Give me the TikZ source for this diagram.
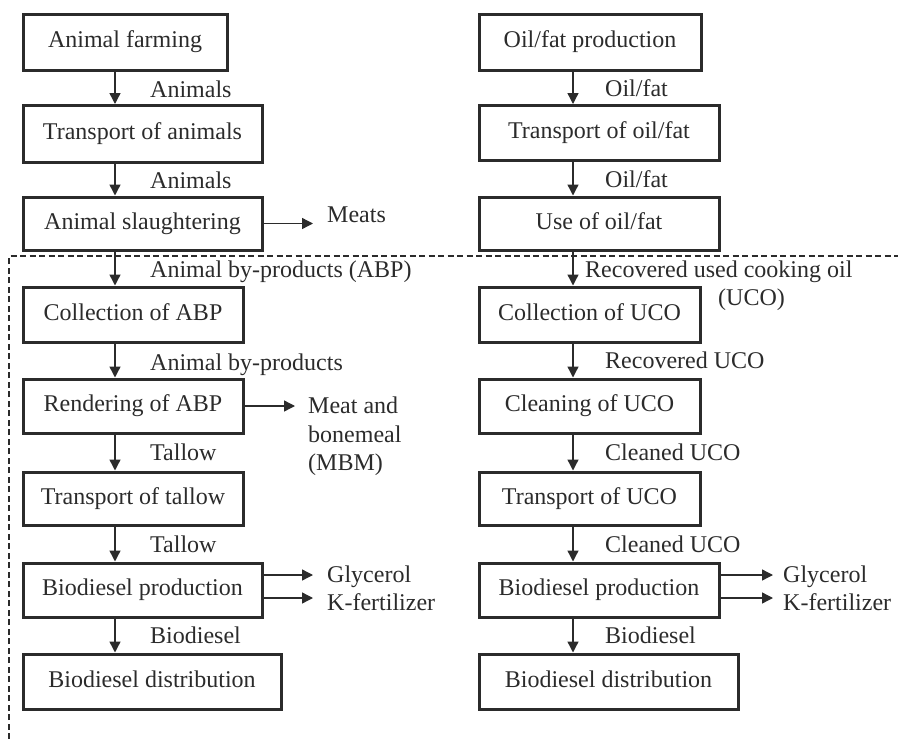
\documentclass[tikz,border=0pt]{standalone}
\usepackage{fontspec}
\setmainfont{Liberation Serif}
\usetikzlibrary{arrows.meta}
\definecolor{ink}{HTML}{2B2B2B}
\tikzset{
  box/.style={draw=ink, line width=3pt, text=ink, minimum height=55pt,
    text height=16pt, text depth=5pt, inner sep=0pt},
  conn/.style={draw=ink, line width=1.4pt,
    -{Triangle[length=11pt,width=11pt]}},
  lbl/.style={anchor=base west, text=ink, inner sep=0pt},
  border/.style={draw=ink, line width=1.3pt, dash pattern=on 6pt off 3.5pt}
}
\begin{document}
\begin{tikzpicture}[x=1pt, y=-1pt, font=\fontsize{24}{29}\selectfont]
\useasboundingbox (0,0) rectangle (898,739);

% column positions of the vertical flows
\coordinate (xL) at (115,0);
\coordinate (xR) at (573,0);

% ---- animal fat chain ----
\node[box, minimum width=204pt, minimum height=56pt] (farm)  at (125,42)    {Animal farming};
\node[box, minimum width=239pt, minimum height=57pt] (tani)  at (142.5,134) {Transport of animals};
\node[box, minimum width=239pt, minimum height=53pt] (slau)  at (142.5,223.5) {Animal slaughtering};
\node[box, minimum width=220pt] (colA)  at (133,314.5) {Collection of ABP};
\node[box, minimum width=220pt, minimum height=54pt] (rend)  at (133,406)   {Rendering of ABP};
\node[box, minimum width=220pt, minimum height=53pt] (ttal)  at (133,498.5) {Transport of tallow};
\node[box, minimum width=239pt, minimum height=54pt] (bioL)  at (142.5,590) {Biodiesel production};
\node[box, minimum width=258pt] (distL) at (152,681.5) {Biodiesel distribution};

% ---- used cooking oil chain ----
\node[box, minimum width=222pt, minimum height=56pt] (oilp)  at (590,42)    {Oil/fat production};
\node[box, minimum width=240pt, minimum height=55pt] (toil)  at (599,133)   {Transport of oil/fat};
\node[box, minimum width=240pt, minimum height=53pt] (use)   at (599,223.5) {Use of oil/fat};
\node[box, minimum width=221pt] (colU)  at (589.5,314.5) {Collection of UCO};
\node[box, minimum width=221pt, minimum height=54pt] (clean) at (589.5,406)  {Cleaning of UCO};
\node[box, minimum width=221pt, minimum height=53pt] (tuco)  at (589.5,498.5) {Transport of UCO};
\node[box, minimum width=240pt, minimum height=54pt] (bioR)  at (599,590)   {Biodiesel production};
\node[box, minimum width=259pt] (distR) at (608.5,681.5) {Biodiesel distribution};

% ---- flow labels ----
\node[lbl] (l1) at (150,97)  {Animals};
\node[lbl] (l2) at (150,188) {Animals};
\node[lbl] (l3) at (150,277) {Animal by-products (ABP)};
\node[lbl] (l4) at (150,370) {Animal by-products};
\node[lbl] (l5) at (150,460) {Tallow};
\node[lbl] (l6) at (150,552) {Tallow};
\node[lbl] (l7) at (150,643) {Biodiesel};

\node[lbl] (r1) at (605,96)  {Oil/fat};
\node[lbl] (r2) at (605,187) {Oil/fat};
\node[lbl] (r3) at (585,277) {Recovered used cooking oil};
\node[lbl] (r3b) at (718,305) {(UCO)};
\node[lbl] (r4) at (605,368) {Recovered UCO};
\node[lbl] (r5) at (605,460) {Cleaned UCO};
\node[lbl] (r6) at (605,552) {Cleaned UCO};
\node[lbl] (r7) at (605,643) {Biodiesel};

% ---- side products ----
\node[lbl] (meats) at (327,222) {Meats};
\node[lbl] (mbm)  at (308,413) {Meat and};
\node[lbl] (mbm2) at (308,442) {bonemeal};
\node[lbl] (mbm3) at (308,470) {(MBM)};
\node[lbl] (glyL) at (327,582) {Glycerol};
\node[lbl] (kfL)  at (327,610) {K-fertilizer};
\node[lbl] (glyR) at (783,582) {Glycerol};
\node[lbl] (kfR)  at (783,610) {K-fertilizer};

% ---- vertical flows ----
\foreach \a/\b in {farm/tani, tani/slau, slau/colA, colA/rend, rend/ttal, ttal/bioL, bioL/distL}
  \draw[conn] (\a.south -| xL) -- (\b.north -| xL);
\foreach \a/\b in {oilp/toil, toil/use, use/colU, colU/clean, clean/tuco, tuco/bioR, bioR/distR}
  \draw[conn] (\a.south -| xR) -- (\b.north -| xR);

% ---- outputs ----
\coordinate (gL) at (0,575);
\coordinate (kL) at (0,598);
\draw[conn, shorten >=14pt] (slau.east) -- (meats.west |- slau.east);
\draw[conn, shorten >=13pt] (rend.east) -- (mbm.west |- rend.east);
\draw[conn, shorten >=14pt] (bioL.east |- gL) -- (glyL.west |- gL);
\draw[conn, shorten >=14pt] (bioL.east |- kL) -- (kfL.west |- kL);
\draw[conn, shorten >=10pt] (bioR.east |- gL) -- (glyR.west |- gL);
\draw[conn, shorten >=10pt] (bioR.east |- kL) -- (kfR.west |- kL);

% ---- system boundary ----
\coordinate (bl) at (9,739);
\coordinate (tl) at (9,256);
\coordinate (tr) at (898,256);
\draw[border] (bl) -- (tl) -- (tr);
\end{tikzpicture}
\end{document}
